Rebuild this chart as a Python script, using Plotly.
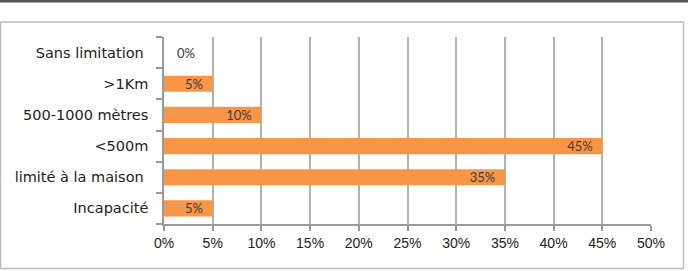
import plotly.graph_objects as go

categories = ["Incapacité", "limité à la maison\u00a0", "<500m", "500-1000 mètres", ">1Km", "Sans limitation\u00a0"]
values = [5, 35, 45, 10, 5, 0]
tick_vals = [0, 5, 10, 15, 20, 25, 30, 35, 40, 45, 50]
tick_text = [f"{v}%" for v in tick_vals]

W, H = 688, 271
L, R, T, B = 164, 37, 37, 47
pw, ph = W - L - R, H - T - B

def px_x(x):
    return (x - L) / pw

def px_y(y):
    return (H - B - y) / ph

text_pos = ["outside" if v == 0 else "inside" for v in values]
labels = [("\u00a0\u00a0\u00a0" + f"{v}%") if v == 0 else (f"{v}%" + "\u00a0\u00a0") for v in values]

fig = go.Figure(go.Bar(
    y=categories, x=values, orientation="h",
    marker=dict(color="#F79646", line=dict(width=0)),
    text=labels,
    textposition=text_pos,
    insidetextanchor="end",
    constraintext="none",
    textfont=dict(family="Lato", size=13, color="#3a3a3a"),
    outsidetextfont=dict(family="Lato", size=13, color="#3a3a3a"),
    cliponaxis=False,
    hoverinfo="skip",
))

fig.update_layout(
    width=W, height=H,
    margin=dict(l=L, r=R, t=T, b=B, autoexpand=False),
    paper_bgcolor="white", plot_bgcolor="white",
    bargap=0.48,
    showlegend=False,
    uniformtext=dict(minsize=13, mode="show"),
    xaxis=dict(
        range=[0, 50], tickvals=tick_vals, ticktext=tick_text,
        showgrid=True, gridcolor="#b3b3b3", gridwidth=1.5,
        showline=True, linecolor="#999999", linewidth=1.5,
        ticks="outside", ticklen=5, tickcolor="#999999", tickwidth=1.5,
        tickfont=dict(family="Liberation Sans", size=14, color="#222222"),
        zeroline=False, fixedrange=True, automargin=False,
    ),
    yaxis=dict(
        type="category",
        showline=True, linecolor="#999999", linewidth=1.5,
        ticks="outside", ticklen=6, tickcolor="#999999", tickwidth=1.5,
        tickson="boundaries",
        tickfont=dict(family="DejaVu Sans", size=14.5, color="#222222"),
        ticklabelstandoff=11,
        showgrid=False, fixedrange=True, automargin=False,
    ),
    shapes=[
        dict(type="rect", xref="paper", yref="paper",
             x0=px_x(0.5), x1=px_x(683.5), y0=px_y(268.5), y1=px_y(22),
             line=dict(color="#bdbdbd", width=1.5), fillcolor="rgba(0,0,0,0)", layer="below"),
        dict(type="rect", xref="paper", yref="paper",
             x0=px_x(0), x1=px_x(688), y0=px_y(2.5), y1=px_y(0),
             line=dict(width=0), fillcolor="#555555"),
    ],
)

fig.write_html("out.html")
